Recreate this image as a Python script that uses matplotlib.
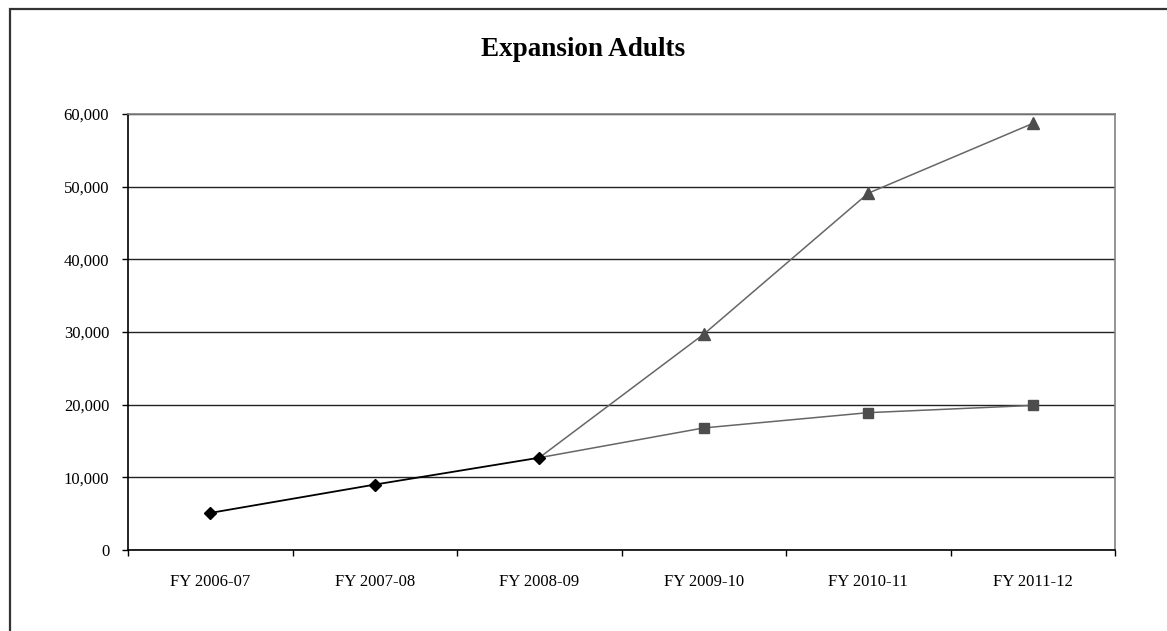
import matplotlib
matplotlib.use('Agg')
import matplotlib.pyplot as plt
from matplotlib.patches import Rectangle
from matplotlib.ticker import FuncFormatter, FixedLocator

YEARS = ['FY 2006-07', 'FY 2007-08', 'FY 2008-09',
         'FY 2009-10', 'FY 2010-11', 'FY 2011-12']

# actual enrollment, then two projections branching from FY 2008-09
ACTUAL = [5100, 9000, 12700]
PROJ_LOW = [12700, 16800, 18900, 19900]
PROJ_HIGH = [12700, 29700, 49100, 58700]


def main():
    plt.rcParams['font.family'] = ['Liberation Serif', 'DejaVu Serif']

    fig = plt.figure(figsize=(11.67, 6.31), dpi=100)
    ax = fig.add_axes([128 / 1167, 1 - 550 / 631, 987 / 1167, 436 / 631])

    # outer chart frame (right and bottom edges run off the canvas)
    fig.patches.append(Rectangle((10 / 1167, -0.1), 1.2, 1.1 - 9 / 631,
                                 transform=fig.transFigure, fill=False,
                                 edgecolor='#333333', linewidth=1.6,
                                 clip_on=False))

    x_actual = list(range(len(ACTUAL)))
    x_proj = list(range(2, 2 + len(PROJ_LOW)))

    # projections share their first point with the actual series,
    # so that point only gets the diamond marker
    ax.plot(x_proj, PROJ_HIGH, color='#666666', linewidth=1.1,
            marker='^', markersize=8, markerfacecolor='#4d4d4d',
            markeredgecolor='#4d4d4d', markevery=slice(1, None), zorder=3)
    ax.plot(x_proj, PROJ_LOW, color='#666666', linewidth=1.1,
            marker='s', markersize=7, markerfacecolor='#4d4d4d',
            markeredgecolor='#4d4d4d', markevery=slice(1, None), zorder=3)
    ax.plot(x_actual, ACTUAL, color='black', linewidth=1.3,
            marker='D', markersize=6.5, markerfacecolor='black',
            markeredgecolor='black', zorder=4)

    ax.set_xlim(-0.5, len(YEARS) - 0.5)
    ax.set_ylim(0, 60000)
    ax.set_yticks(range(0, 60001, 10000))
    ax.yaxis.set_major_formatter(FuncFormatter(lambda v, p: f'{int(v):,}'))
    ax.yaxis.grid(True, color='#222222', linewidth=1.0)
    ax.set_axisbelow(True)

    # tick marks sit between categories, labels at category centres
    ax.xaxis.set_major_locator(FixedLocator([i - 0.5 for i in range(len(YEARS) + 1)]))
    ax.xaxis.set_minor_locator(FixedLocator(range(len(YEARS))))
    ax.set_xticklabels([])
    ax.set_xticklabels(YEARS, minor=True)
    ax.tick_params(axis='x', which='major', length=4.5, width=1, direction='out')
    ax.tick_params(axis='x', which='minor', length=0, pad=17, labelsize=12)
    ax.tick_params(axis='y', length=4.5, width=1, direction='out', pad=9,
                   labelsize=12)

    ax.spines['left'].set_color('black')
    ax.spines['bottom'].set_color('black')
    ax.spines['top'].set_color('#808080')
    ax.spines['right'].set_color('#808080')
    for s in ax.spines.values():
        s.set_linewidth(1.2)

    fig.text(0.5, 1 - 50 / 631, 'Expansion Adults', ha='center', va='center',
             fontsize=19.5, fontweight='bold')

    fig.savefig('out.png', dpi=100)


if __name__ == '__main__':
    main()
